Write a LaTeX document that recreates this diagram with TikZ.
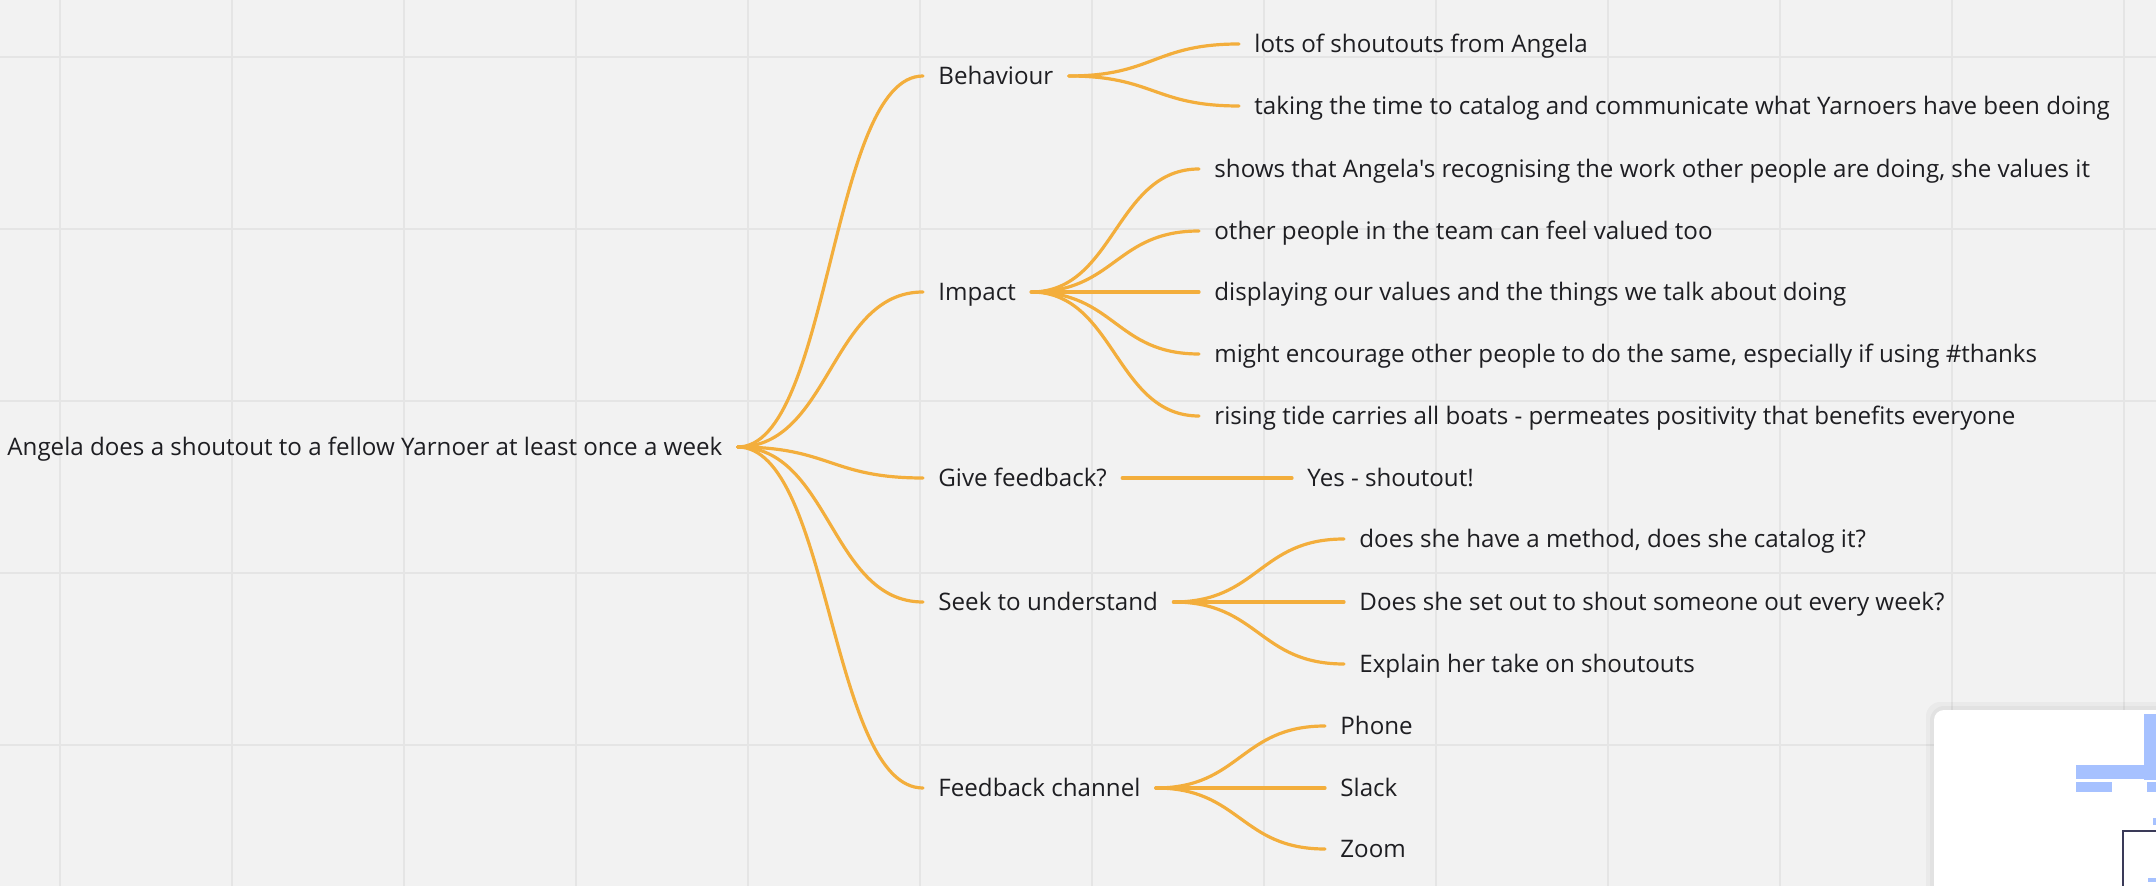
\documentclass[tikz,border=0pt]{standalone}
\usepackage{fontspec}
\setmainfont{Open Sans}[Ligatures=TeXOff]
\usetikzlibrary{calc}
\definecolor{colback}{RGB}{242,242,242}
\definecolor{colgrid}{RGB}{229,229,229}
\definecolor{colbranch}{RGB}{243,174,60}
\definecolor{colink}{RGB}{30,30,34}
\definecolor{colmini}{RGB}{166,193,255}
\definecolor{colframe}{RGB}{58,58,88}
\tikzset{%
     gridline/.style = { colgrid, line width=1pt },
        topic/.style = { anchor=west, inner xsep=7.5pt, inner ysep=0pt, text height=8.6pt,
                         text depth=0pt, font=\fontsize{12.07}{14}\selectfont, text=colink },
       branch/.style = { draw=colbranch, line width=1.6pt, line cap=round,
                         to path={let \p1=(\tikztostart), \p2=(\tikztotarget) in
                         .. controls ({0.5*\x1+0.5*\x2},\y1) and ({0.5*\x1+0.5*\x2},\y2) .. (\tikztotarget)} },
        panel/.style = { fill=white, rounded corners=5pt },
       pshade/.style = { fill=black, opacity=0.03, rounded corners=7pt },
         mini/.style = { fill=colmini }
}

\begin{document}
\begin{tikzpicture}[x=0.5pt,y=-0.5pt]
  \useasboundingbox (0,0) rectangle (2156,886);
  \fill[colback] (0,0) rectangle (2156,886);
  \foreach \gx in {60,232,...,2124} \draw[gridline] (\gx,0) -- (\gx,886);
  \foreach \gy in {57,229,...,745} \draw[gridline] (0,\gy) -- (2156,\gy);

  \node[topic] (root) at (-8,447) {Angela does a shoutout to a fellow Yarnoer at least once a week};

  \node[topic] (beh)  at (923,76)  {Behaviour};
  \node[topic] (imp)  at (923,292) {Impact};
  \node[topic] (give) at (923,478) {Give feedback?};
  \node[topic] (seek) at (923,602) {Seek to understand};
  \node[topic] (chan) at (923,788) {Feedback channel};

  \node[topic] (behone) at (1239,44)  {lots of shoutouts from Angela};
  \node[topic] (behtwo) at (1239,106) {taking the time to catalog and communicate what Yarnoers have been doing};

  \node[topic] (impone)   at (1199,169) {shows that Angela's recognising the work other people are doing, she values it};
  \node[topic] (imptwo)   at (1199,231) {other people in the team can feel valued too};
  \node[topic] (impthree) at (1199,292) {displaying our values and the things we talk about doing};
  \node[topic] (impfour)  at (1199,354) {might encourage other people to do the same, especially if using \#thanks};
  \node[topic] (impfive)  at (1199,416) {rising tide carries all boats - permeates positivity that benefits everyone};

  \node[topic] (giveone) at (1292,478) {Yes - shoutout!};

  \node[topic] (seekone)   at (1344,539) {does she have a method, does she catalog it?};
  \node[topic] (seektwo)   at (1344,602) {Does she set out to shout someone out every week?};
  \node[topic] (seekthree) at (1344,664) {Explain her take on shoutouts};

  \node[topic] (chanone)   at (1325,726) {Phone};
  \node[topic] (chantwo)   at (1325,788) {Slack};
  \node[topic] (chanthree) at (1325,849) {Zoom};

  \draw[branch] (root.east) to (beh.west);
  \draw[branch] (root.east) to (imp.west);
  \draw[branch] (root.east) to (give.west);
  \draw[branch] (root.east) to (seek.west);
  \draw[branch] (root.east) to (chan.west);

  \draw[branch] (beh.east) to (behone.west);
  \draw[branch] (beh.east) to (behtwo.west);

  \draw[branch] (imp.east) to (impone.west);
  \draw[branch] (imp.east) to (imptwo.west);
  \draw[branch] (imp.east) to (impthree.west);
  \draw[branch] (imp.east) to (impfour.west);
  \draw[branch] (imp.east) to (impfive.west);

  \draw[branch] (give.east) to (giveone.west);

  \draw[branch] (seek.east) to (seekone.west);
  \draw[branch] (seek.east) to (seektwo.west);
  \draw[branch] (seek.east) to (seekthree.west);

  \draw[branch] (chan.east) to (chanone.west);
  \draw[branch] (chan.east) to (chantwo.west);
  \draw[branch] (chan.east) to (chanthree.west);

  \begin{scope}
    \clip (0,0) rectangle (2156,886);
    \path[pshade] (1926,702) rectangle (2190,920);
    \path[pshade] (1930,706) rectangle (2190,920);
    \path[panel] (1934,710) rectangle (2190,920);
    \fill[mini] (2144,714) rectangle (2160,780);
    \fill[mini] (2076,765) rectangle (2144,779);
    \fill[mini] (2076,782) rectangle (2112,792);
    \fill[mini] (2147,782) rectangle (2160,792);
    \fill[mini] (2153,818) rectangle (2160,825);
    \fill[mini] (2148,878) rectangle (2160,882);
    \draw[colframe, line width=1pt] (2190,831) -- (2123,831) -- (2123,900);
  \end{scope}
\end{tikzpicture}
\end{document}
